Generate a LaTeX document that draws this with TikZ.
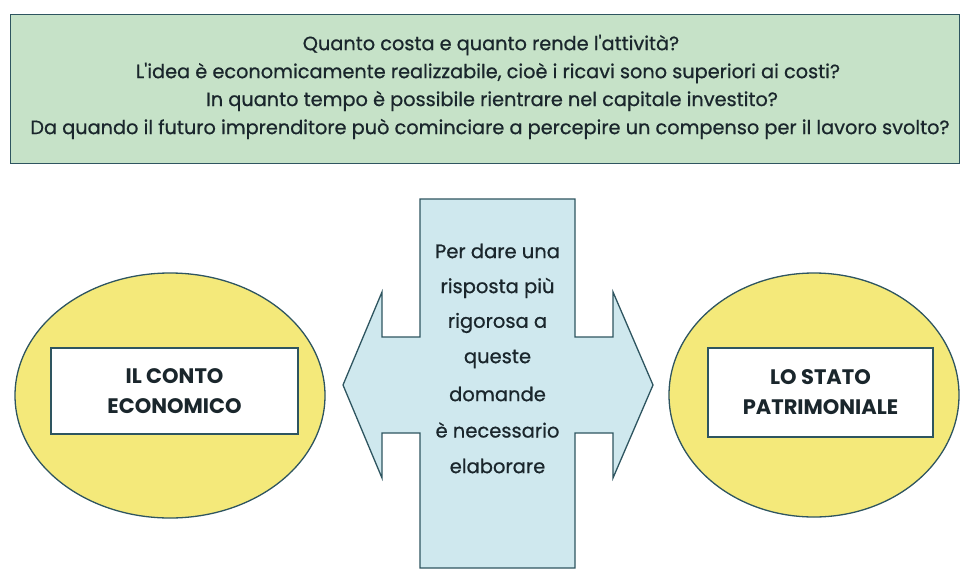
\documentclass[tikz,border=0pt]{standalone}
\usepackage{fontspec}
\setmainfont{Poppins}
\newfontfamily\medfont{Poppins}[FakeBold=0.7]
\usetikzlibrary{shapes.geometric}
\definecolor{lineC}{HTML}{2E5560}
\definecolor{greenC}{HTML}{C6E2C8}
\definecolor{yellowC}{HTML}{F4E97A}
\definecolor{blueC}{HTML}{CFE8EE}
\definecolor{textC}{HTML}{1A262C}
\tikzset{
  qtext/.style={font=\medfont\fontsize{19.3}{22}\selectfont, text=textC, inner sep=0pt},
  circ/.style={ellipse, draw=lineC, line width=1.3pt, fill=yellowC, inner sep=0pt},
  label box/.style={draw=lineC, line width=1.3pt, fill=white, inner sep=0pt, align=center,
     font=\bfseries\fontsize{21}{30}\selectfont, text=textC},
  crossline/.style={font=\medfont\fontsize{19.5}{22}\selectfont, text=textC, inner sep=0pt}
}
\begin{document}
\begin{tikzpicture}[x=1pt,y=-1pt]
\useasboundingbox (0,0) rectangle (960,570);
% top box
\node[draw=lineC, line width=1.3pt, fill=greenC, minimum width=949pt, minimum height=149pt, inner sep=0pt, anchor=north west] (top) at (10,14) {};
\node[qtext] (q1) at (491,45) {Quanto costa e quanto rende l'attività?};
\node[qtext] (q2) at (488,73) {L'idea è economicamente realizzabile, cioè i ricavi sono superiori ai costi?};
\node[qtext] (q3) at (492,101) {In quanto tempo è possibile rientrare nel capitale investito?};
\node[qtext] (q4) at (490,129) {Da quando il futuro imprenditore può cominciare a percepire un compenso per il lavoro svolto?};
% ellipses
\node[circ, minimum width=310pt, minimum height=245pt] (le) at (170,395.5) {};
\node[circ, minimum width=290pt, minimum height=244pt] (re) at (814,395) {};
\node[label box, minimum width=247pt, minimum height=86pt] (lb) at (174.5,391) {IL CONTO\\ECONOMICO};
\node[label box, minimum width=225pt, minimum height=89pt] (rb) at (820.5,392.5) {LO STATO\\PATRIMONIALE};
% cross arrow
\draw[draw=lineC, line width=1.3pt, fill=blueC, line join=miter]
  (420,199) -- (575,199) -- (575,337) -- (613,337) -- (613,292) -- (653,385) -- (613,478)
  -- (613,433) -- (575,433) -- (575,568) -- (420,568) -- (420,433) -- (382,433) -- (382,478)
  -- (343,385) -- (382,292) -- (382,337) -- (420,337) -- cycle;
\node[crossline] (c1) at (497.5,251) {Per dare una};
\node[crossline] (c2) at (497.5,288) {risposta più};
\node[crossline] (c3) at (497.5,323) {rigorosa a};
\node[crossline] (c4) at (497.5,359) {queste};
\node[crossline] (c5) at (497.5,394) {domande};
\node[crossline] (c6) at (497.5,430) {è necessario};
\node[crossline] (c7) at (497.5,466) {elaborare};
\end{tikzpicture}
\end{document}
